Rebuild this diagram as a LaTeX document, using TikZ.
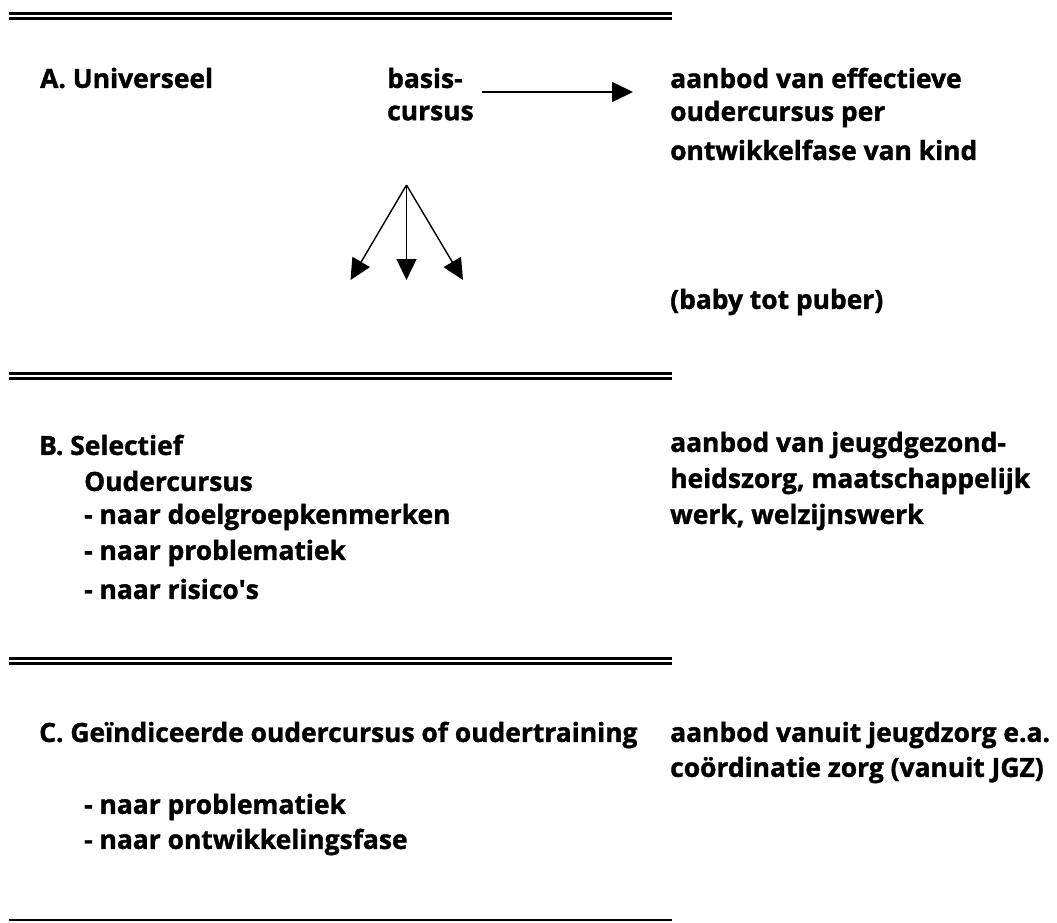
\documentclass[tikz,border=0pt]{standalone}
\usepackage{fontspec}
\setmainfont{Open Sans}[BoldFeatures={FakeBold=1.3}]
\usetikzlibrary{arrows.meta}
\begin{document}
\begin{tikzpicture}[x=1pt,y=-1pt,
  txt/.style={anchor=west,inner sep=0pt,font=\fontsize{26.4}{30}\selectfont\bfseries},
  rule/.style={line width=2.7pt},
  arr/.style={line width=1.4pt,-{Triangle[length=21pt,width=20pt]}}]
\useasboundingbox (0,0) rectangle (1057,922);
% rules
\draw[rule] (9,13.4) -- (672,13.4);
\draw[rule] (9,18.3) -- (672,18.3);
\draw[rule] (9,373.4) -- (672,373.4);
\draw[rule] (9,378.3) -- (672,378.3);
\draw[rule] (9,658.4) -- (672,658.4);
\draw[rule] (9,663.3) -- (672,663.3);
\draw[rule] (9,920) -- (672,920);
% A
\node[txt] (a1) at (40,78) {A. Universeel};
\node[txt] (b1) at (387,78) {basis-};
\node[txt] (b2) at (387,113) {cursus};
\node[txt] (r1) at (670,78) {aanbod van effectieve};
\node[txt] (r2) at (670,114) {oudercursus per};
\node[txt] (r3) at (670,150) {ontwikkelfase van kind};
\node[txt] (r4) at (670,302) {(baby tot puber)};
\coordinate (h1) at (482,92);
\coordinate (h2) at (633,92);
\draw[arr] (h1) -- (h2);
\coordinate (apex) at (406.5,185);
\coordinate (t1) at (350.5,280);
\coordinate (t2) at (406.5,280);
\coordinate (t3) at (463,280);
\draw[arr] (apex) -- (t1);
\draw[arr] (apex) -- (t2);
\draw[arr] (apex) -- (t3);
% B
\node[txt] (bs) at (39,445) {B. Selectief};
\node[txt] (bo) at (84,481) {Oudercursus};
\node[txt] (bd) at (84,517) {- naar doelgroepkenmerken};
\node[txt] (bp) at (84,553) {- naar problematiek};
\node[txt] (br) at (84,589) {- naar risico\textquotesingle s};
\node[txt] (s1) at (670,445) {aanbod van jeugdgezond-};
\node[txt] (s2) at (670,481) {heidszorg, maatschappelijk};
\node[txt] (s3) at (670,517) {werk, welzijnswerk};
% C
\node[txt] (cg) at (39,735) {C. Geïndiceerde oudercursus of oudertraining};
\node[txt] (c1) at (670,735) {aanbod vanuit jeugdzorg e.a.};
\node[txt] (c2) at (670,770) {coördinatie zorg (vanuit JGZ)};
\node[txt] (cp) at (84,807) {- naar problematiek};
\node[txt] (co) at (84,842) {- naar ontwikkelingsfase};
\end{tikzpicture}
\end{document}
